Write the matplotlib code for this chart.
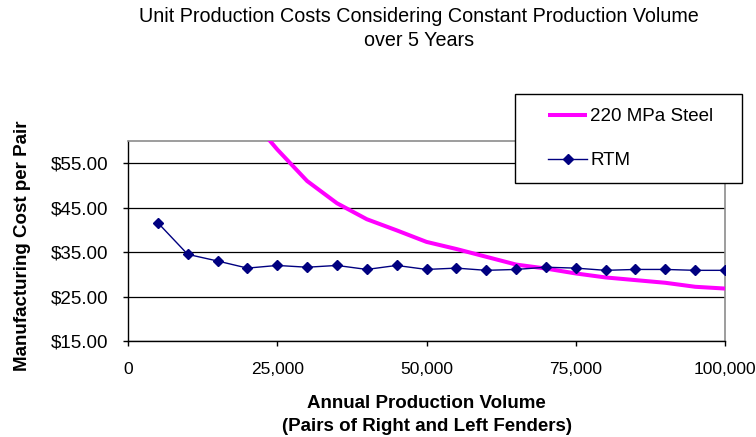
import matplotlib
matplotlib.use("Agg")
import matplotlib.pyplot as plt
from matplotlib.patches import Rectangle
from matplotlib.ticker import FuncFormatter

plt.rcParams['font.family'] = ['Liberation Sans', 'DejaVu Sans']

# Annual production volume (pairs of fenders)
volume_rtm = [5000, 10000, 15000, 20000, 25000, 30000, 35000, 40000, 45000, 50000,
              55000, 60000, 65000, 70000, 75000, 80000, 85000, 90000, 95000, 100000]
cost_rtm = [41.6, 34.5, 33.0, 31.4, 32.0, 31.6, 32.0, 31.1, 32.0, 31.1,
            31.4, 30.9, 31.1, 31.6, 31.4, 30.9, 31.1, 31.1, 30.9, 30.9]

volume_steel = [20000, 25000, 30000, 35000, 40000, 45000, 50000, 55000, 60000,
                65000, 70000, 75000, 80000, 85000, 90000, 95000, 100000]
cost_steel = [66.0, 58.1, 51.0, 46.0, 42.4, 39.9, 37.3, 35.7, 33.95,
              32.2, 31.3, 30.2, 29.3, 28.7, 28.1, 27.2, 26.8]

y_ticks = [15, 25, 35, 45, 55]
x_ticks = [0, 25000, 50000, 75000, 100000]

W, H = 756, 437
fig = plt.figure(figsize=(W / 100, H / 100), dpi=100)
ax = fig.add_axes([128 / W, 1 - 341 / H, 597 / W, 200 / H])

ax.plot(volume_steel, cost_steel, color='#FF00FF', lw=2.9, solid_capstyle='butt',
        solid_joinstyle='round', label='220 MPa Steel', zorder=3)
ax.plot(volume_rtm, cost_rtm, color='#000080', lw=1.0, marker='D', markersize=5,
        markerfacecolor='#000080', markeredgecolor='#000080', label='RTM', zorder=4)

ax.set_xlim(0, 100000)
ax.set_ylim(15, 60)
ax.set_yticks(y_ticks)
ax.set_xticks(x_ticks)
ax.yaxis.set_major_formatter(FuncFormatter(lambda v, p: f"${v:.2f}"))
ax.xaxis.set_major_formatter(FuncFormatter(lambda v, p: f"{int(v):,}"))

ax.grid(axis='y', color='black', lw=0.9)
ax.grid(axis='x', visible=False)
ax.set_axisbelow(True)

for side in ('top', 'right'):
    ax.spines[side].set_color('#8c8c8c')
    ax.spines[side].set_linewidth(1.2)
for side in ('left', 'bottom'):
    ax.spines[side].set_color('black')
    ax.spines[side].set_linewidth(1.0)

ax.tick_params(axis='y', direction='out', length=3.6, width=1, pad=10.5, labelsize=13.5)
ax.tick_params(axis='x', direction='out', length=3.6, width=1, pad=11.5, labelsize=12.5)

fig.text(419 / W, 1 - 28.5 / H,
         "Unit Production Costs Considering Constant Production Volume\nover 5 Years",
         ha='center', va='center', fontsize=14.2, linespacing=1.4)

fig.text(426.5 / W, 1 - 415 / H,
         "Annual Production Volume\n(Pairs of Right and Left Fenders)",
         ha='center', va='center', fontsize=13.5, fontweight='bold', linespacing=1.5)

fig.text(22.5 / W, 1 - 245.5 / H, "Manufacturing Cost per Pair",
         ha='center', va='center', rotation=90, fontsize=13.5, fontweight='bold')

# Legend box sitting over the upper right of the plot area
box = Rectangle((515 / W, 1 - 183 / H), 227 / W, 89 / H, transform=fig.transFigure,
                facecolor='white', edgecolor='black', lw=1.0, zorder=4)
fig.add_artist(box)
handles, labels = ax.get_legend_handles_labels()
fig.legend(handles, labels, loc='upper left', bbox_to_anchor=(548 / W, 1 - 108 / H),
           frameon=False, fontsize=13.5, handlelength=2.08, handletextpad=0.18,
           labelspacing=1.45, borderpad=0, borderaxespad=0, markerscale=1.0)

fig.savefig("out.png", dpi=100)
